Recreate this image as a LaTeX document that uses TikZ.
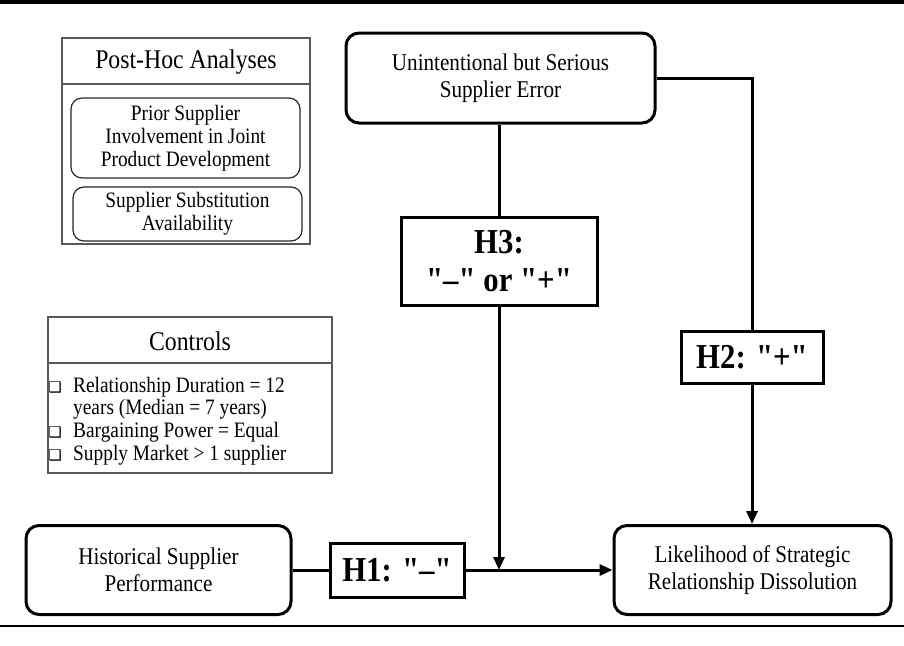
\documentclass[tikz,border=0pt]{standalone}
\usepackage{fontspec}
\setmainfont{Liberation Serif}[Ligatures=TeXOff, FakeStretch=0.88]
\newfontfamily\boxglyph{DejaVu Sans}
\usetikzlibrary{arrows.meta}

\begin{document}
\begin{tikzpicture}[x=1pt, y=-1pt,
        varbox/.style = {rectangle, rounded corners=13pt, draw, line width=3pt, align=center, inner sep=0pt, font=\fontsize{24}{27}\selectfont},
        hypbox/.style = {rectangle, draw, line width=3pt, align=center, inner sep=0pt, font=\fontsize{35}{38}\selectfont\bfseries},
        subbox/.style = {rectangle, rounded corners=11pt, draw=black!85, line width=1.2pt, align=center, inner sep=0pt, font=\fontsize{22}{23}\selectfont},
        panel/.style = {draw=black!65, line width=1.4pt},
        paneltitle/.style = {inner sep=0pt, font=\fontsize{27}{30}\selectfont},
        ctrlitem/.style = {anchor=west, inner sep=0pt, font=\fontsize{22}{23}\selectfont},
        ctrlbox/.style = {inner sep=0pt, font=\boxglyph\fontsize{15}{16}\selectfont},
        link/.style = {line width=3pt},
        arr/.style = {link, -{Triangle[length=13pt, width=11pt]}}
        ]
        \useasboundingbox (0,0) rectangle (904,645);
        \draw[line width=3.5pt] (0,2) -- (904,2);
        \draw[line width=2pt] (0,626) -- (904,626);

        \draw[panel] (62,38) rectangle (310,244);
        \draw[panel] (62,84) -- (310,84);
        \node[paneltitle] (phtitle) at (186,62) {Post-Hoc Analyses};
        \node[subbox, minimum width=229pt, minimum height=80pt] (prior) at (185.5,138) {Prior Supplier\\Involvement in Joint\\Product Development};
        \node[subbox, minimum width=229pt, minimum height=54pt] (subst) at (187.5,214) {Supplier Substitution\\Availability};

        \draw[panel] (48,317) rectangle (332,473);
        \draw[panel] (48,363) -- (332,363);
        \node[paneltitle] (ctitle) at (190,341) {Controls};
        \node[ctrlbox] (cb1) at (55,387) {❑};
        \node[ctrlitem] (ci1) at (73,387) {Relationship Duration = 12};
        \node[ctrlitem] (ci1b) at (73,409) {years (Median = 7 years)};
        \node[ctrlbox] (cb2) at (55,432) {❑};
        \node[ctrlitem] (ci2) at (73,432) {Bargaining Power = Equal};
        \node[ctrlbox] (cb3) at (55,455) {❑};
        \node[ctrlitem] (ci3) at (73,455) {Supply Market > 1 supplier};

        \node[varbox, minimum width=309pt, minimum height=90pt] (error) at (500.5,78) {Unintentional but Serious\\Supplier Error};
        \node[varbox, minimum width=265pt, minimum height=89pt] (hist) at (158.5,570) {Historical Supplier\\Performance};
        \node[varbox, minimum width=277pt, minimum height=89pt] (likely) at (752.5,570) {Likelihood of Strategic\\Relationship Dissolution};

        \node[hypbox, minimum width=196pt, minimum height=88pt] (h3) at (499,261) {H3:\\"–" or "+"};
        \node[hypbox, minimum width=142pt, minimum height=52pt] (h2) at (752,357) {H2: "+"};
        \node[hypbox, minimum width=134pt, minimum height=54pt] (h1) at (397,570) {H1: "–"};

        \draw[link] (error.south -| h3.north) -- (h3.north);
        \draw[arr] (h3.south) -- (h3.south |- h1.east);
        \draw[link] (hist.east) -- (h1.west);
        \draw[arr] (h1.east) -- (likely.west);
        \draw[link] (error.east) -| (h2.north);
        \draw[arr] (h2.south) -- (h2.south |- likely.north);
\end{tikzpicture}
\end{document}
